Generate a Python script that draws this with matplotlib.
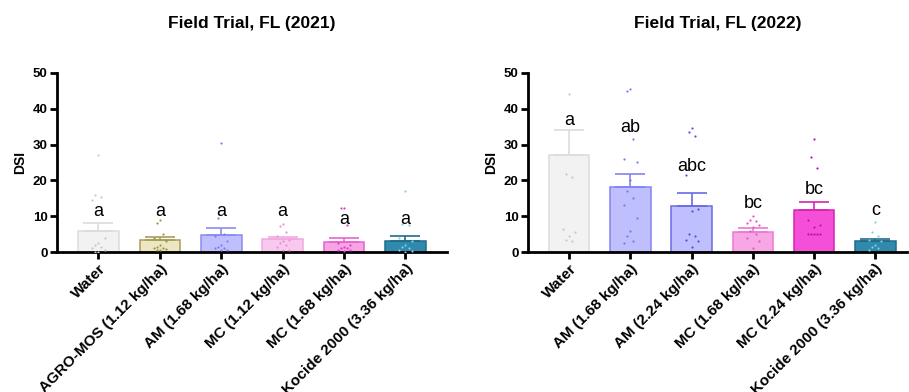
import numpy as np
import matplotlib.pyplot as plt

plt.rcParams['font.family'] = ['Liberation Sans', 'DejaVu Sans']

# 2021 trial
cats_2021 = ['Water', 'AGRO-MOS (1.12 kg/ha)', 'AM (1.68 kg/ha)',
             'MC (1.12 kg/ha)', 'MC (1.68 kg/ha)', 'Kocide 2000 (3.36 kg/ha)']
mean_2021 = [6.0, 3.4, 4.7, 3.7, 2.9, 3.2]
sem_2021 = [2.2, 0.9, 2.0, 0.6, 1.1, 1.2]
letters_2021 = ['a', 'a', 'a', 'a', 'a', 'a']
letter_y_2021 = [10.0, 10.2, 10.2, 10.0, 7.9, 7.9]
pts_2021 = [
    [27.0, 16.0, 15.3, 14.5, 4.0, 2.5, 2.0, 1.5, 1.0, 0.5, 0.0, 0.0],
    [9.0, 8.2, 5.0, 4.0, 3.0, 2.0, 1.5, 1.2, 1.0, 0.8, 0.5, 0.5],
    [30.5, 9.5, 5.0, 4.5, 3.0, 2.0, 1.5, 1.0, 1.0, 0.5, 0.5],
    [7.8, 7.2, 5.5, 4.5, 3.5, 3.0, 2.5, 2.0, 1.5, 0.5, 0.5],
    [12.4, 12.3, 7.5, 2.5, 2.0, 1.5, 1.0, 1.0, 0.5, 0.5, 0.3],
    [17.0, 7.7, 7.5, 4.0, 3.0, 2.0, 1.5, 1.0, 0.5, 0.3, 0.0],
]

# 2022 trial
cats_2022 = ['Water', 'AM (1.68 kg/ha)', 'AM (2.24 kg/ha)',
             'MC (1.68 kg/ha)', 'MC (2.24 kg/ha)', 'Kocide 2000 (3.36 kg/ha)']
mean_2022 = [27.0, 18.2, 12.9, 5.7, 11.6, 3.0]
sem_2022 = [7.0, 3.7, 3.6, 0.9, 2.4, 0.7]
letters_2022 = ['a', 'ab', 'abc', 'bc', 'bc', 'c']
letter_y_2022 = [35.6, 33.5, 22.5, 12.4, 16.1, 10.3]
pts_2022 = [
    [44.0, 21.8, 21.0, 6.5, 5.5, 4.5, 3.5, 3.0],
    [45.5, 45.0, 31.5, 26.0, 25.0, 20.0, 17.0, 15.0, 13.0, 9.5, 6.0, 4.5, 3.0, 2.5],
    [34.5, 33.5, 32.5, 21.5, 12.0, 11.5, 5.0, 4.5, 3.5, 3.0, 1.5],
    [10.0, 9.0, 8.8, 8.0, 7.5, 7.0, 6.0, 5.0, 4.0, 3.0, 1.0],
    [31.5, 26.5, 23.5, 9.0, 7.5, 7.0, 5.0, 5.0, 5.0, 5.0, 5.0],
    [8.5, 5.5, 4.5, 3.5, 3.0, 2.0, 1.5, 1.0, 0.5],
]

face_2021 = ['#f2f2f2', '#ece6c2', '#bfbffd', '#f8c9ee', '#f7a3e4', '#2f8aad']
edge_2021 = ['#dcdcdc', '#a99c5a', '#8c8cf0', '#f2a8e2', '#ea62d2', '#1f6c8a']
dots_2021 = ['#c8c8c8', '#a0924a', '#7d7dee', '#ee8ed8', '#e040c8', '#7fd0e0']

face_2022 = ['#f2f2f2', '#bfbffd', '#bfbffd', '#f7a8e4', '#f54fd8', '#2f8aad']
edge_2022 = ['#dcdcdc', '#8484f2', '#6a6ae6', '#ee78d6', '#d424b6', '#1f6c8a']
dots_2022 = ['#c8c8c8', '#7878ee', '#5050e0', '#e850cc', '#c010a8', '#7fd0e0']


def draw(ax, cats, means, sems, letters, letter_y, pts, faces, edges, dots, title, xmax):
    x = np.arange(len(cats))
    ax.bar(x, means, width=0.66, color=faces, edgecolor=edges, linewidth=1.1, zorder=2)
    for i in range(len(cats)):
        ax.errorbar(x[i], means[i], yerr=[[0], [sems[i]]], fmt='none',
                    ecolor=edges[i], elinewidth=1.2, capsize=11, capthick=1.2, zorder=3)
        offs = [0, -0.05, 0.05, -0.1, 0.1]
        xs = [x[i] + offs[k % len(offs)] for k in range(len(pts[i]))]
        ax.scatter(xs, pts[i], s=2.5, color=dots[i], zorder=4, linewidths=0)
        ax.text(x[i], letter_y[i], letters[i], ha='center', va='baseline', fontsize=13)
    ax.set_xlim(-0.67, xmax)
    ax.set_ylim(0, 50)
    ax.set_yticks([0, 10, 20, 30, 40, 50])
    ax.set_xticks(x)
    ax.set_xticklabels(cats, rotation=45, ha='right', rotation_mode='anchor',
                       fontweight='bold', fontsize=11)
    for lab in ax.get_yticklabels():
        lab.set_fontweight('bold')
        lab.set_fontsize(9.5)
    ax.set_ylabel('DSI', fontweight='bold', fontsize=10)
    ax.spines['top'].set_visible(False)
    ax.spines['right'].set_visible(False)
    ax.spines['left'].set_linewidth(2)
    ax.spines['bottom'].set_linewidth(2)
    ax.tick_params(width=2, length=5, direction='out', pad=2)
    ax.set_title(title, fontweight='bold', fontsize=12.5, pad=32)


fig = plt.figure(figsize=(9.09, 3.92), dpi=100)
ax1 = fig.add_axes([0.063, 0.357, 0.429, 0.457])
ax2 = fig.add_axes([0.581, 0.357, 0.417, 0.457])

draw(ax1, cats_2021, mean_2021, sem_2021, letters_2021, letter_y_2021, pts_2021,
     face_2021, edge_2021, dots_2021, 'Field Trial, FL (2021)', 5.68)
draw(ax2, cats_2022, mean_2022, sem_2022, letters_2022, letter_y_2022, pts_2022,
     face_2022, edge_2022, dots_2022, 'Field Trial, FL (2022)', 5.52)

fig.savefig('out.png', dpi=100)
